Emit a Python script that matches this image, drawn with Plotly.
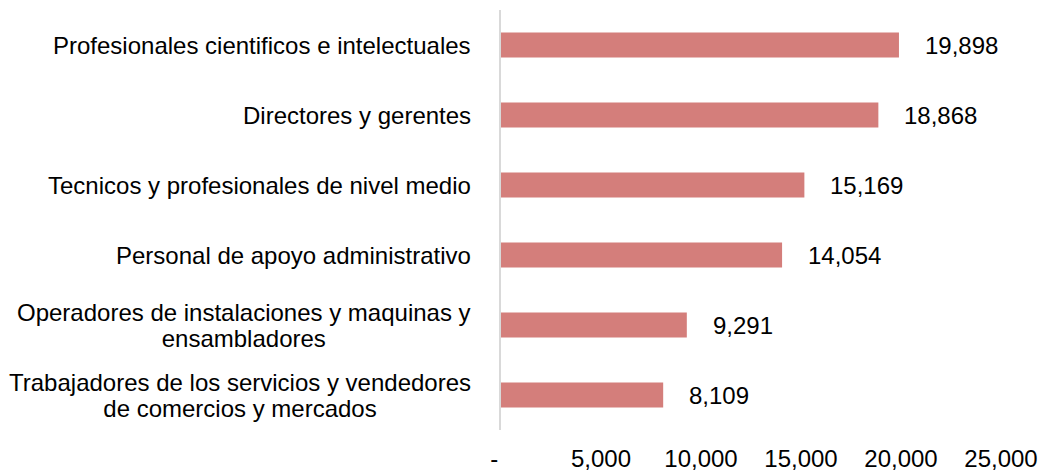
import plotly.graph_objects as go

categories = [
    "Profesionales cientificos e intelectuales",
    "Directores y gerentes",
    "Tecnicos y profesionales de nivel medio",
    "Personal de apoyo administrativo",
    "Operadores de instalaciones y maquinas y<br>ensambladores",
    "Trabajadores de los servicios y vendedores<br>de comercios y mercados",
]
values = [19898, 18868, 15169, 14054, 9291, 8109]
tick_vals = [0, 5000, 10000, 15000, 20000, 25000]
tick_text = ["-\u00a0\u00a0", "5,000", "10,000", "15,000", "20,000", "25,000"]

FONT = "Liberation Sans, Arial, sans-serif"
FS = 24
LINE_FS = 20  # controls line spacing of wrapped labels

fig = go.Figure()
fig.add_trace(go.Bar(
    x=values, y=categories, orientation="h",
    marker=dict(color="#D47E7B", line=dict(width=0)),
    width=0.36, hoverinfo="skip",
))

annotations = []
for c, v in zip(categories, values):
    annotations.append(dict(
        x=v, y=c, xref="x", yref="y", text=f"{v:,}", showarrow=False,
        xanchor="left", yanchor="middle", xshift=24,
        font=dict(family=FONT, size=FS, color="#000000"),
    ))
    styled = "<br>".join(
        f'<span style="font-size:{FS}px">{part}</span>' for part in c.split("<br>")
    )
    annotations.append(dict(
        x=0, y=c, xref="paper", yref="y", text=styled, showarrow=False,
        xanchor="right", yanchor="middle", xshift=-28, align="center",
        font=dict(family=FONT, size=LINE_FS, color="#000000"),
    ))

fig.update_layout(
    width=1041, height=472,
    margin=dict(l=501, r=40, t=10, b=42, autoexpand=False),
    paper_bgcolor="white", plot_bgcolor="white",
    showlegend=False,
    annotations=annotations,
    xaxis=dict(
        range=[0, 25000], tickvals=tick_vals, ticktext=tick_text,
        showgrid=False, zeroline=False, showline=False, ticks="",
        ticklabelstandoff=12,
        tickfont=dict(family=FONT, size=FS, color="#000000"),
        automargin=False, fixedrange=True,
    ),
    yaxis=dict(
        autorange="reversed", showticklabels=False, showgrid=False,
        zeroline=False, showline=True, linecolor="#D9D9D9", linewidth=2,
        ticks="", automargin=False, fixedrange=True,
    ),
    bargap=0.64,
)

fig.write_html(
    "out.html",
    config={"displayModeBar": False},
    post_script="document.body.style.margin='0';document.body.style.padding='0';",
)
